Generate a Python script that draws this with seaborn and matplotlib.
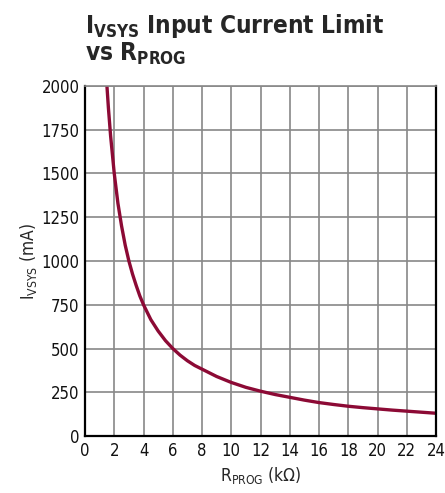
import matplotlib
matplotlib.use("Agg")
import matplotlib.pyplot as plt
import pandas as pd
import seaborn as sns

# valores
r_prog = [1.5, 1.6, 1.75, 2, 2.25, 2.5, 2.75, 3, 3.25, 3.5, 3.75, 4, 4.5, 5, 5.5, 6, 6.5, 7, 7.5, 8,
          9, 10, 11, 12, 13, 14, 15, 16, 17, 18, 19, 20, 21, 22, 23, 24]
i_vsys = [2000, 1875, 1715, 1500, 1330, 1200, 1090, 1000, 925, 860, 800, 750, 665, 600, 545, 500, 462, 430, 403, 382,
          340, 306, 278, 256, 237, 221, 205, 191, 180, 170, 162, 155, 148, 142, 136, 130]
x_ticks = list(range(0, 25, 2))
y_ticks = list(range(0, 2001, 250))

df = pd.DataFrame({"R": r_prog, "I": i_vsys})

sns.set_style("white")
plt.rcParams["font.family"] = ["DejaVu Sans"]
plt.rcParams["font.stretch"] = "condensed"
plt.rcParams["mathtext.default"] = "regular"

fig = plt.figure(figsize=(4.45, 4.93), dpi=100)
ax = fig.add_axes([0.191, 0.1156, 0.789, 0.71])

sns.lineplot(data=df, x="R", y="I", ax=ax, color="#8c0a35", linewidth=2.4)

ax.set_xlim(0, 24)
ax.set_ylim(0, 2000)
ax.set_xticks(x_ticks)
ax.set_yticks(y_ticks)
ax.grid(True, color="#888888", linewidth=1.2)
ax.tick_params(axis="both", length=0, labelsize=12, pad=4, colors="#111111")
for s in ["left", "bottom", "right"]:
    ax.spines[s].set_color("black")
    ax.spines[s].set_linewidth(1.6)
ax.spines["top"].set_color("#888888")
ax.spines["top"].set_linewidth(1.2)

ax.set_xlabel(r"R$_{PROG}$ (k$\Omega$)", fontsize=12.5, labelpad=4)
ax.set_ylabel(r"I$_{VSYS}$ (mA)", fontsize=12.5, labelpad=2)

fig.text(0.19, 0.975, r"I$_{VSYS}$ Input Current Limit" + "\n" + r"vs R$_{PROG}$",
         fontsize=17.5, fontweight="bold", ha="left", va="top", linespacing=1.0)

fig.savefig("out.png", dpi=100)
